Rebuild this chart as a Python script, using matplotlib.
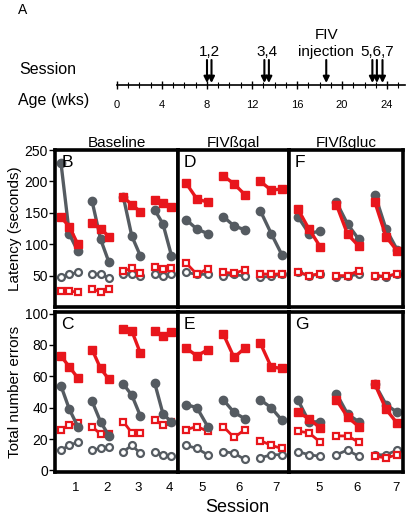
import matplotlib
matplotlib.use("Agg")
from matplotlib import pyplot as plt
import numpy as np

plt.rcParams['font.family'] = ['Liberation Sans', 'DejaVu Sans']

# timeline (weeks)
week_ticks = [0, 4, 8, 12, 16, 20, 24]
session_weeks = [8.0, 8.4, 13.1, 13.5, 22.7, 23.1, 23.6]
fiv_week = 18.6
arrow_labels = ["1,2", "3,4", "5,6,7"]

sessions_base = [1, 2, 3, 4]
sessions_fiv = [5, 6, 7]

# latency (seconds), three trials per session
lat_base_gray = [[230, 116, 89], [168, 108, 71], [175, 113, 82], [155, 132, 82]]
lat_base_red = [[143, 128, 100], [133, 125, 112], [175, 163, 152], [170, 166, 160]]
lat_base_gray_open = [[47, 52, 55], [52, 53, 46], [53, 53, 49], [52, 49, 53]]
lat_base_red_open = [[25, 25, 24], [29, 24, 28], [57, 62, 54], [64, 61, 62]]

lat_gal_gray = [[139, 124, 117], [144, 129, 123], [153, 117, 83]]
lat_gal_red = [[197, 172, 167], [209, 196, 179], [200, 186, 188]]
lat_gal_gray_open = [[55, 52, 52], [50, 52, 49], [47, 49, 52]]
lat_gal_red_open = [[70, 52, 61], [55, 54, 59], [53, 52, 53]]

lat_gluc_gray = [[144, 117, 121], [167, 132, 108], [179, 124, 91]]
lat_gluc_red = [[156, 124, 96], [163, 116, 97], [167, 112, 89]]
lat_gluc_gray_open = [[55, 50, 52], [47, 49, 52], [49, 48, 53]]
lat_gluc_red_open = [[56, 50, 53], [50, 50, 58], [50, 49, 53]]

# total number of errors
err_base_gray = [[54, 39, 28], [44, 31, 22], [55, 48, 35], [56, 36, 31]]
err_base_red = [[73, 66, 59], [77, 65, 58], [90, 89, 75], [89, 86, 88]]
err_base_gray_open = [[13, 16, 18], [13, 14, 15], [12, 16, 11], [12, 10, 9]]
err_base_red_open = [[26, 29, 30], [28, 23, 23], [31, 24, 24], [32, 29, 31]]

err_gal_gray = [[42, 40, 28], [45, 37, 33], [45, 40, 32]]
err_gal_red = [[78, 73, 77], [87, 72, 78], [81, 66, 65]]
err_gal_gray_open = [[16, 14, 10], [12, 11, 7], [8, 10, 10]]
err_gal_red_open = [[26, 28, 25], [28, 21, 26], [19, 16, 14]]

err_gluc_gray = [[45, 31, 31], [49, 36, 31], [55, 42, 37]]
err_gluc_red = [[37, 33, 27], [45, 34, 28], [55, 39, 30]]
err_gluc_gray_open = [[12, 10, 9], [10, 13, 9], [10, 10, 13]]
err_gluc_red_open = [[25, 24, 18], [22, 22, 18], [9, 8, 10]]

GRAY = "#555b61"
RED = "#e8161c"
W, H = 410.0, 520.0

fig = plt.figure(figsize=(W / 100, H / 100), dpi=100)


def px_axes(l, t, r, b):
    return fig.add_axes([l / W, 1 - b / H, (r - l) / W, (b - t) / H])


# ---- panel A : timeline
axA = px_axes(117, 20, 405, 85)
axA.set_xlim(0, 25.6)
axA.set_ylim(85, 20)
for s in ["top", "left", "right"]:
    axA.spines[s].set_visible(False)
axA.spines["bottom"].set_linewidth(1.2)
axA.set_yticks([])
axA.set_xticks(week_ticks)
axA.set_xticks(np.arange(0, 26), minor=True)
axA.tick_params(axis="x", which="major", direction="inout", length=6, width=1, labelsize=8, pad=8)
axA.tick_params(axis="x", which="minor", direction="inout", length=4, width=0.8)
for w in session_weeks + [fiv_week]:
    axA.annotate("", xy=(w, 83), xytext=(w, 60), xycoords="data",
                 arrowprops=dict(arrowstyle="-|>", color="k", lw=1.5, mutation_scale=9,
                                 shrinkA=0, shrinkB=0))
groups = [session_weeks[0:2], session_weeks[2:4], session_weeks[4:7]]
for lab, g in zip(arrow_labels, groups):
    axA.text(np.mean(g), 52, lab, ha="center", va="center", fontsize=11)
axA.text(fiv_week, 35, "FIV", ha="center", va="center", fontsize=11)
axA.text(fiv_week, 52, "injection", ha="center", va="center", fontsize=11)
fig.text(18 / W, 1 - 10 / H, "A", ha="left", va="center", fontsize=10)
fig.text(19 / W, 1 - 70 / H, "Session", ha="left", va="center", fontsize=11.5)
fig.text(18 / W, 1 - 101 / H, "Age (wks)", ha="left", va="center", fontsize=11.5)


def draw_panel(ax, sessions, d, gray, red, gray_open, red_open):
    for i, s in enumerate(sessions):
        xs = [s - d, s, s + d]
        ax.plot(xs, gray_open[i], color=GRAY, lw=2, marker="o", ms=5,
                mfc="white", mec=GRAY, mew=1.6)
        ax.plot(xs, red_open[i], color=RED, lw=2, marker="s", ms=5,
                mfc="white", mec=RED, mew=1.6)
        ax.plot(xs, gray[i], color=GRAY, lw=2.4, marker="o", ms=6,
                mfc=GRAY, mec=GRAY)
        ax.plot(xs, red[i], color=RED, lw=2.4, marker="s", ms=5.5,
                mfc=RED, mec=RED)


cols = [
    (55, 178, sessions_base, (0.54, 4.48), 0.27, 0.2, "Baseline"),
    (178, 289, sessions_fiv, (4.49, 7.48), 0.29, 0.14, "FIV\u00dfgal"),
    (289, 403, sessions_fiv, (4.48, 7.44), 0.29, 0.25, "FIV\u00dfgluc"),
]
top_data = [
    (lat_base_gray, lat_base_red, lat_base_gray_open, lat_base_red_open),
    (lat_gal_gray, lat_gal_red, lat_gal_gray_open, lat_gal_red_open),
    (lat_gluc_gray, lat_gluc_red, lat_gluc_gray_open, lat_gluc_red_open),
]
bot_data = [
    (err_base_gray, err_base_red, err_base_gray_open, err_base_red_open),
    (err_gal_gray, err_gal_red, err_gal_gray_open, err_gal_red_open),
    (err_gluc_gray, err_gluc_red, err_gluc_gray_open, err_gluc_red_open),
]
top_letters = ["B", "D", "F"]
bot_letters = ["C", "E", "G"]

for k, (l, r, sess, xl, d, lab_off, title) in enumerate(cols):
    axt = px_axes(l, 150, r, 307)
    axb = px_axes(l, 312, r, 472)
    draw_panel(axt, sess, d, *top_data[k])
    draw_panel(axb, sess, d, *bot_data[k])
    axt.set_ylim(0, 250)
    axb.set_ylim(-1, 101)
    for ax, letter in [(axt, top_letters[k]), (axb, bot_letters[k])]:
        ax.set_xlim(*xl)
        for s in ax.spines.values():
            s.set_linewidth(2.6)
        ax.text(0.05, 0.97, letter, transform=ax.transAxes, ha="left", va="top",
                fontsize=12.5)
    axt.set_xticks([])
    axb.set_xticks([s + lab_off for s in sess])
    axb.set_xticklabels([str(s) for s in sess])
    axb.tick_params(axis="x", length=0, labelsize=9.5, pad=7)
    axt.set_title(title, fontsize=11, pad=1)
    if k == 0:
        axt.set_yticks([50, 100, 150, 200, 250])
        axb.set_yticks([0, 20, 40, 60, 80, 100])
        for ax in (axt, axb):
            ax.tick_params(axis="y", length=4, width=1, labelsize=10, pad=1)
        axt.set_ylabel("Latency (seconds)", fontsize=11, labelpad=2)
        axb.set_ylabel("Total number errors", fontsize=11, labelpad=2)
    else:
        axt.set_yticks([])
        axb.set_yticks([])

fig.text(237 / W, 1 - 508 / H, "Session", ha="center", va="center", fontsize=13)

fig.savefig("out.png", dpi=100)
